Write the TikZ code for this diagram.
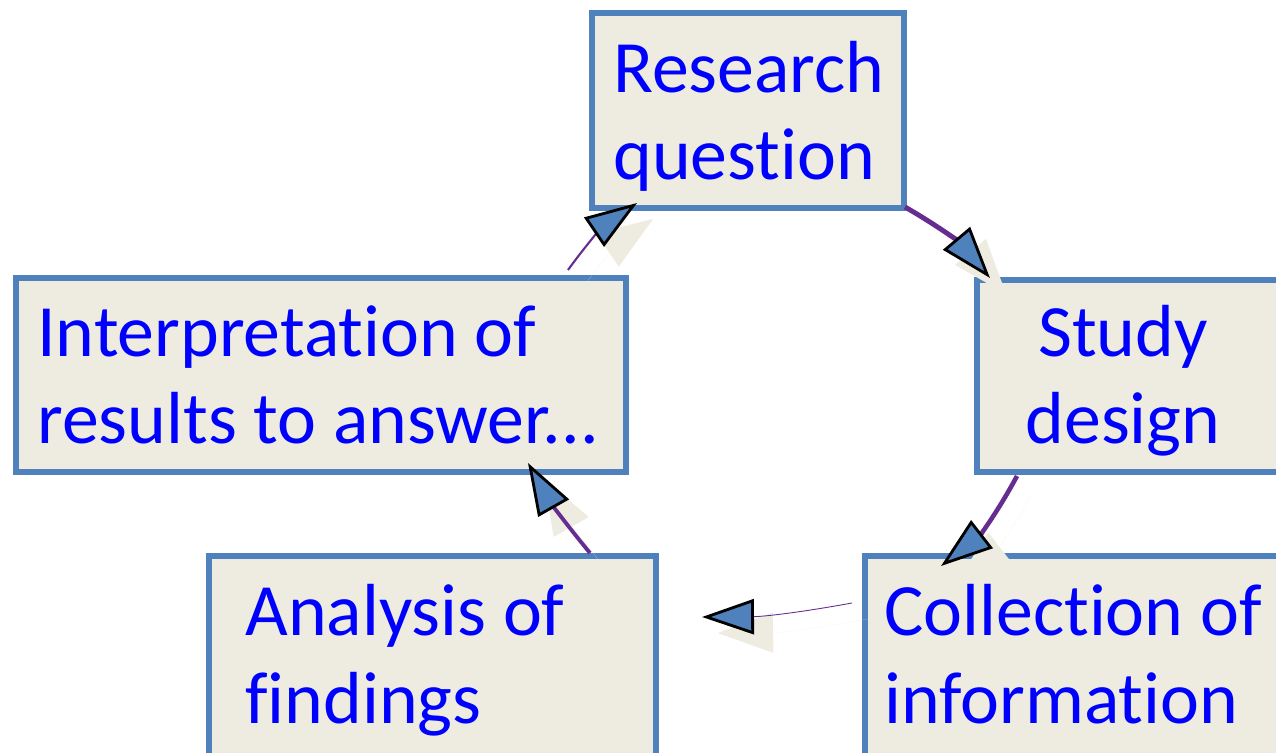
\documentclass[tikz,border=0pt]{standalone}
\usepackage{fontspec}
\setmainfont{Carlito}[Ligatures=NoCommon]
\usetikzlibrary{arrows.meta,fit}
\definecolor{boxblue}{HTML}{4F81BD}
\definecolor{boxfill}{HTML}{EEECE1}
\definecolor{cyclepurple}{HTML}{662D91}
\definecolor{txtblue}{HTML}{0000FF}
\tikzset{
  stagebox/.style = {draw=boxblue, fill=boxfill, line width=3pt, inner sep=0pt},
  stagetext/.style = {anchor=base west, align=left, text=txtblue, inner sep=0pt,
    font=\fontsize{42}{50}\selectfont},
  cycle/.style = {cyclepurple, -{Triangle[length=1.04cm, width=0.7cm, fill=boxblue, color=black, line width=1.6pt]}},
  tipshadow/.style = {boxfill, line width=0.01pt, -{Triangle[length=1.1cm, width=0.8cm, fill=boxfill]}}
}

\begin{document}
\begin{tikzpicture}[x=0.02cm, y=-0.02cm]
  \useasboundingbox (0,0) rectangle (1276,753);
  \clip (0,0) rectangle (1276,753);
  \fill[white] (0,0) rectangle (1276,753);
  % boxes
  \node[stagebox, fit={(592,13) (904,208)}] (rq) {};
  \node[stagebox, fit={(977,280) (1290,472)}] (sd) {};
  \node[stagebox, fit={(865,556) (1290,770)}] (coll) {};
  \node[stagebox, fit={(209,556) (656,770)}] (anal) {};
  \node[stagebox, fit={(16,278) (626,472)}] (interp) {};
  % texts (base = last line)
  \node[stagetext] (rq-txt) at (613,180) {Research\\question};
  \node[stagetext, anchor=base, align=center] (sd-txt) at (1123,444) {Study\\design};
  \node[stagetext] (coll-txt) at (884,723) {Collection of\\information};
  \node[stagetext] (anal-txt) at (245,723) {Analysis of\\findings};
  \node[stagetext] (interp-txt) at (37,444) {Interpretation of\\results to answer...};
  % ends of the cycle arrows
  \coordinate (rq-out) at (905,207);
  \coordinate (sd-in) at (990,278);
  \coordinate (sd-out) at (1017,476);
  \coordinate (coll-in) at (941,566);
  \coordinate (coll-out) at (852,603);
  \coordinate (anal-in) at (702,617);
  \coordinate (anal-out) at (590,553);
  \coordinate (interp-in) at (528,463);
  \coordinate (interp-out) at (568,270);
  \coordinate (rq-in) at (637,203);
  % shadows
  \begin{scope}[transform canvas={xshift=0.32cm, yshift=-0.32cm}]
    \draw[tipshadow] (rq-out) to[bend left=10] (sd-in);
    \draw[tipshadow] (sd-out) to[bend left=12] (coll-in);
    \draw[tipshadow] (coll-out) to[bend left=5] (anal-in);
    \draw[tipshadow] (anal-out) to[bend left=5] (interp-in);
    \draw[tipshadow] (interp-out) to[bend left=10] (rq-in);
  \end{scope}
  % cycle
  \draw[cycle, line width=2.8pt] (rq-out) to[bend left=10] (sd-in);
  \draw[cycle, line width=2.6pt] (sd-out) to[bend left=12] (coll-in);
  \draw[cycle, line width=0.5pt] (coll-out) to[bend left=5] (anal-in);
  \draw[cycle, line width=2.2pt] (anal-out) to[bend left=5] (interp-in);
  \draw[cycle, line width=1.2pt] (interp-out) to[bend left=10] (rq-in);
\end{tikzpicture}
\end{document}
